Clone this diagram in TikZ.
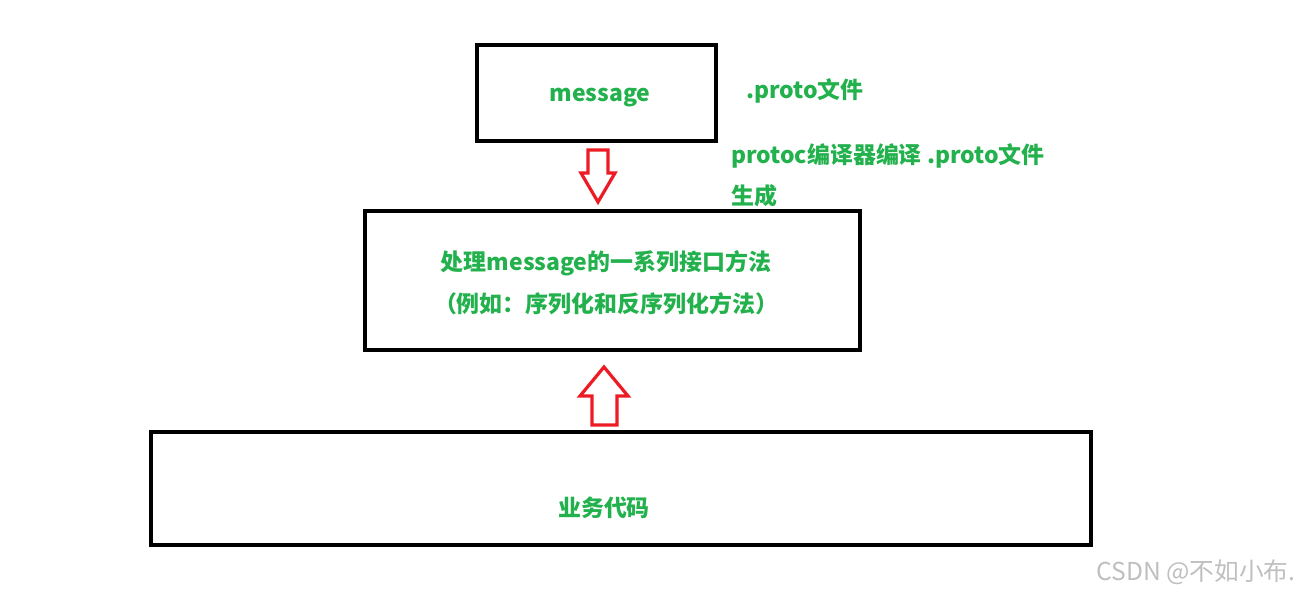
\documentclass[tikz,border=0pt]{standalone}
\usepackage{fontspec}
\setmainfont{Noto Sans CJK SC}
\begin{document}
\begin{tikzpicture}[x=0.75pt,y=-0.75pt]
    \definecolor{paintgreen}{RGB}{34,177,76}
    \definecolor{paintred}{RGB}{237,28,36}
    \tikzstyle{frame}=[draw=black, line width=3pt, inner sep=0pt]
    \tikzstyle{label}=[text=paintgreen, font=\fontsize{17.2}{20}\selectfont\bfseries, inner sep=0pt]
    \tikzstyle{blockarrow}=[draw=paintred, line width=2.4pt, fill=white, line join=miter]

    \useasboundingbox (0,0) rectangle (1306,593);

    % boxes
    \node[frame, minimum width=239*0.75pt, minimum height=96*0.75pt] (msgbox) at (596.5,93) {};
    \node[frame, minimum width=495*0.75pt, minimum height=139*0.75pt] (apibox) at (612.5,280.5) {};
    \node[frame, minimum width=940*0.75pt, minimum height=113*0.75pt] (bizbox) at (621,488.5) {};

    % texts
    \node[label] (msg) at (600,98) {message};
    \node[label, anchor=west] (proto) at (746,91) {.proto文件};
    \node[label, anchor=west] (protoc) at (731,156) {protoc编译器编译 .proto文件};
    \node[label, anchor=west] (gen) at (731,196) {生成};
    \node[label] (api1) at (606,263) {处理message的一系列接口方法};
    \node[label] (api2) at (606,304) {（例如：序列化和反序列化方法）};
    \node[label] (biz) at (604,508) {业务代码};
    \node[text=black!25, font=\fontsize{18.5}{21}\selectfont, anchor=west, inner sep=0pt] (mark) at (1096,572) {CSDN @不如小布.};

    % arrows
    \draw[blockarrow] (588,150) -- (608,150) -- (608,173) -- (615,173) -- (598,202)
        -- (581,173) -- (588,173) -- cycle;
    \draw[blockarrow] (592,425) -- (617,425) -- (617,396) -- (628,396) -- (604,367)
        -- (580,396) -- (592,396) -- cycle;
\end{tikzpicture}
\end{document}
